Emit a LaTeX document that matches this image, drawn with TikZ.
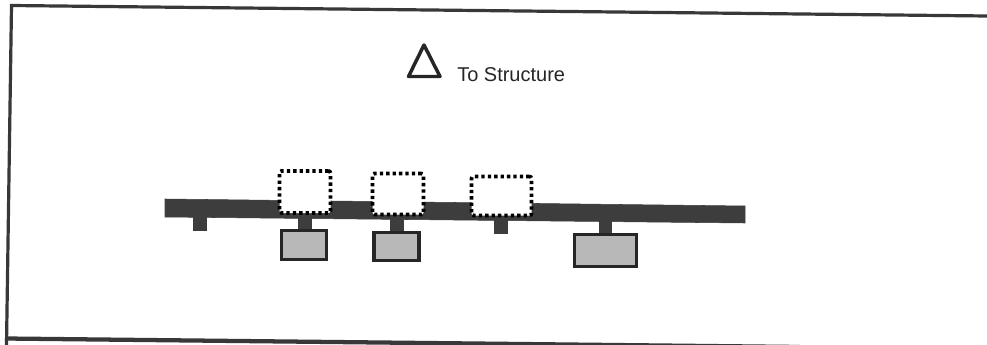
\documentclass[tikz,border=0pt]{standalone}
\usepackage{fontspec}
\setmainfont{Liberation Sans}
\definecolor{barcol}{gray}{0.24}
\definecolor{fillg}{gray}{0.72}
\tikzset{
  x=0.75pt,y=-0.75pt,
  barshape/.style={fill=barcol,draw=barcol,line width=0.4pt},
  stem/.style={draw=barcol,line width=10pt},
  loadbox/.style={rectangle,fill=fillg,draw=black!85,line width=2.8pt,inner sep=0pt},
  dotbox/.style={rectangle,fill=white,draw=black,line width=2.8pt,inner sep=0pt,rounded corners=1.5pt,dash pattern=on 2.5pt off 2.3pt},
  frameline/.style={draw=black!78,line width=2.4pt},
  tri/.style={draw=black!85,line width=2.6pt,line join=round}
}
\begin{document}
\begin{tikzpicture}
\useasboundingbox (0,0) rectangle (987,345);
% frame
\draw[frameline] (987,16) -- (11.5,5.5) -- (6.5,345);
\draw[frameline,line width=3.2pt] (5,338.5) -- (800,347);
% main bar
\path[barshape] (165,199) -- (745,206) -- (745,223) -- (165,217) -- cycle;
% stem tops and free ends
\coordinate (s1) at (200,214);
\coordinate (s1e) at (200,231);
\coordinate (s2) at (305,214);
\coordinate (s3) at (397,216);
\coordinate (s4) at (501,216);
\coordinate (s4e) at (501,234);
\coordinate (s5) at (605.5,219);
% load boxes
\node[loadbox,minimum width=45*0.75pt,minimum height=29*0.75pt] (loadA) at (304,245) {};
\node[loadbox,minimum width=45.5*0.75pt,minimum height=28*0.75pt] (loadB) at (396.5,246.5) {};
\node[loadbox,minimum width=62*0.75pt,minimum height=32*0.75pt] (loadC) at (605.5,250.5) {};
% stems
\draw[stem] (s1) -- (s1e);
\draw[stem] (s2) -- (s2 |- loadA.north);
\draw[stem] (s3) -- (s3 |- loadB.north);
\draw[stem] (s4) -- (s4e);
\draw[stem] (s5) -- (s5 |- loadC.north);
% dotted boxes
\node[dotbox,minimum width=51*0.75pt,minimum height=42*0.75pt] (dotA) at (305,192) {};
\node[dotbox,minimum width=51*0.75pt,minimum height=41*0.75pt] (dotB) at (398,194) {};
\node[dotbox,minimum width=60*0.75pt,minimum height=39*0.75pt] (dotC) at (501.5,196) {};
% triangle and label
\coordinate (ta) at (424,45);
\coordinate (tb) at (408.5,76.5);
\coordinate (tc) at (440,76.5);
\draw[tri] (ta) -- (tb) -- (tc) -- cycle;
\node[anchor=base west,inner sep=0pt,font=\fontsize{15pt}{17pt}\selectfont,text=black!85] (label) at (457,82) {To Structure};
\end{tikzpicture}
\end{document}
